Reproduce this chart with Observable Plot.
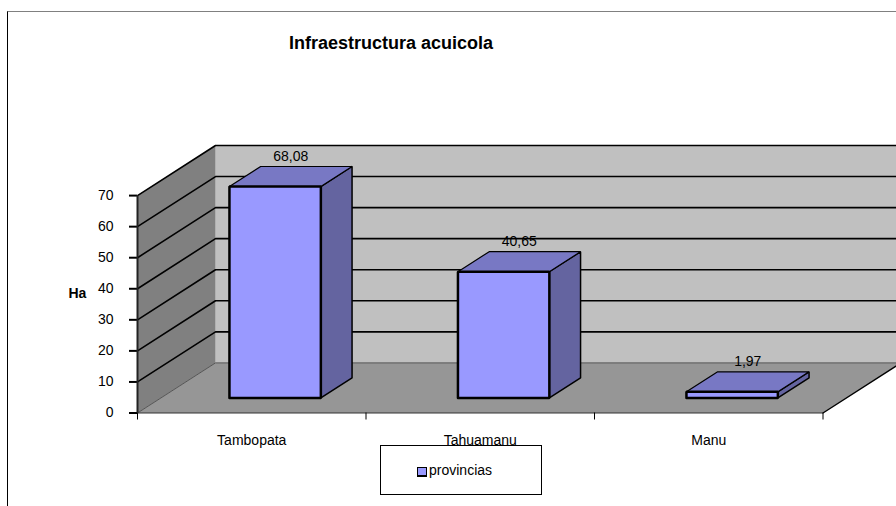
<!DOCTYPE html>
<html>
<head>
<meta charset="utf-8">
<script src="https://cdn.jsdelivr.net/npm/d3@7"></script>
<script src="https://cdn.jsdelivr.net/npm/@observablehq/plot@0.6"></script>
<style>
html,body{margin:0;padding:0;background:#fff;overflow:hidden}
#wrap{position:relative;width:896px;height:506px;font-family:"Liberation Sans",Arial,sans-serif;color:#000}
#wrap svg{position:absolute;left:0;top:0}
#title{position:absolute;left:289px;top:33px;font-size:18px;font-weight:bold;white-space:nowrap}
#edge{position:absolute;left:7px;top:11px;right:0;bottom:0;border-left:1px solid #000;border-top:1px solid #808080}
#legend{position:absolute;left:380px;top:445px;width:160px;height:48px;border:1px solid #000;background:#fff;font-size:14px}
#legend i{position:absolute;left:36px;top:21px;width:8px;height:7px;background:#9999ff;border:1px solid #000;border-bottom-width:2px}
#legend span{position:absolute;left:48px;top:16px}
</style>
</head>
<body>
<div id="wrap">
<div id="edge"></div>
<div id="title">Infraestructura acuicola</div>
<div id="legend"><i></i><span>provincias</span></div>
</div>
<script>
const categories = ["Tambopata", "Tahuamanu", "Manu"];
const values = [68.08, 40.65, 1.97];
const valueLabels = ["68,08", "40,65", "1,97"];
const yTicks = [0, 10, 20, 30, 40, 50, 60, 70];
const bandEdges = [0, 1, 2, 3];
const legendLabel = "provincias";

// oblique projection of the depth axis, in scale units
const DX = 0.3414, DY = 16.13, YMAX = 70, BARW = 0.4, D0 = 0.3, D1 = 0.7;
const N = categories.length;
const P = (b, v, d) => ({x: b + d * DX, y: v + d * DY});
const poly = (id, pts) => pts.map((p) => ({id, ...P(...p)}));

const wall = poly("wall", [[0,0,1],[N,0,1],[N,YMAX,1],[0,YMAX,1]]);
const floor = poly("floor", [[0,0,0],[N,0,0],[N,0,1],[0,0,1]]);
const side = poly("side", [[0,0,0],[0,0,1],[0,YMAX,1],[0,YMAX,0]]);
const gridRows = yTicks.slice(1).flatMap((t) => poly("g" + t, [[0,t,0],[0,t,1],[N,t,1]]));

const faces = (which, d) => values.flatMap((v, i) => {
  const a = i + 0.5 - BARW / 2, b = i + 0.5 + BARW / 2;
  if (which === "front") return poly("f" + i, [[a,0,D0],[b,0,D0],[b,v,D0],[a,v,D0]]);
  if (which === "side") return poly("s" + i, [[b,0,D0],[b,0,D1],[b,v,D1],[b,v,D0]]);
  return poly("t" + i, [[a,v,D0],[b,v,D0],[b,v,D1],[a,v,D1]]);
});
const closed = (rows) => d3.groups(rows, (r) => r.id).flatMap(([, g]) => [...g, g[0]]);
const labelPts = values.map((v, i) => ({...P(i + 0.5 + BARW / 2 * 0, v, D1), t: valueLabels[i], bx: i + 0.5}));

const font = {fontFamily: '"Liberation Sans", Arial, sans-serif', fontSize: 14, fill: "#000", stroke: "none"};
const polyMark = (rows, fill, stroke, sw) =>
  Plot.line(closed(rows), {x: "x", y: "y", z: "id", fill, stroke, strokeWidth: sw, curve: "linear", strokeLinejoin: "miter"});

const chart = Plot.plot({
  width: 896, height: 506,
  marginLeft: 137, marginRight: 0, marginTop: 145, marginBottom: 93.5,
  style: {background: "transparent", overflow: "hidden"},
  x: {domain: [0, N + DX], range: [137, 137 + (N + DX) * 228.5], axis: null},
  y: {domain: [0, YMAX + DY], axis: null},
  marks: [
    polyMark(wall, "#c0c0c0", "none", 0),
    polyMark(floor, "#969696", "none", 0),
    polyMark(side, "#808080", "none", 0),
    Plot.line(gridRows, {x: "x", y: "y", z: "id", stroke: "#000", strokeWidth: 1.6}),
    Plot.line(poly("floorEdge", [[0,0,0],[0,0,1],[N,0,1]]), {x: "x", y: "y", stroke: "#555", strokeWidth: 1}),
    Plot.line(poly("floorRight", [[N,0,0],[N,0,1]]), {x: "x", y: "y", stroke: "#000", strokeWidth: 1.4}),
    Plot.text(labelPts, {x: (d) => d.bx + (D0 + D1) / 2 * DX, y: "y", text: "t", dy: -10, ...font}),
    polyMark(faces("side"), "#6464a0", "#000", 1.5),
    polyMark(faces("top"), "#7878c4", "#000", 1.2),
    polyMark(faces("front"), "#9999ff", "#000", 2.5),
    Plot.axisY(yTicks, {anchor: "left", tickSize: 8, tickPadding: 16, strokeWidth: 2, stroke: "#000", ...{fontFamily: font.fontFamily, fontSize: 14}, color: "#000", label: null}),
    Plot.ruleX([0], {y1: 0, y2: YMAX, stroke: "#222", strokeWidth: 2}),
    Plot.ruleY([0], {x1: 0, x2: N, stroke: "#333", strokeWidth: 1}),
    Plot.axisX(bandEdges, {anchor: "bottom", tickSize: 7, tickFormat: () => "", stroke: "#000", label: null}),
    Plot.axisX(categories.map((c, i) => i + 0.5), {anchor: "bottom", tickSize: 0, tickPadding: 22, tickFormat: (d) => categories[d - 0.5], fontFamily: font.fontFamily, fontSize: 14, label: null}),
    Plot.text(["Ha"], {frameAnchor: "left", dx: -69, dy: 14, text: (d) => d, fontWeight: "bold", ...font})
  ]
});
const wrap = document.getElementById("wrap");
wrap.insertBefore(chart, document.getElementById("title"));
document.querySelector("#legend span").textContent = legendLabel;
</script>
</body>
</html>
